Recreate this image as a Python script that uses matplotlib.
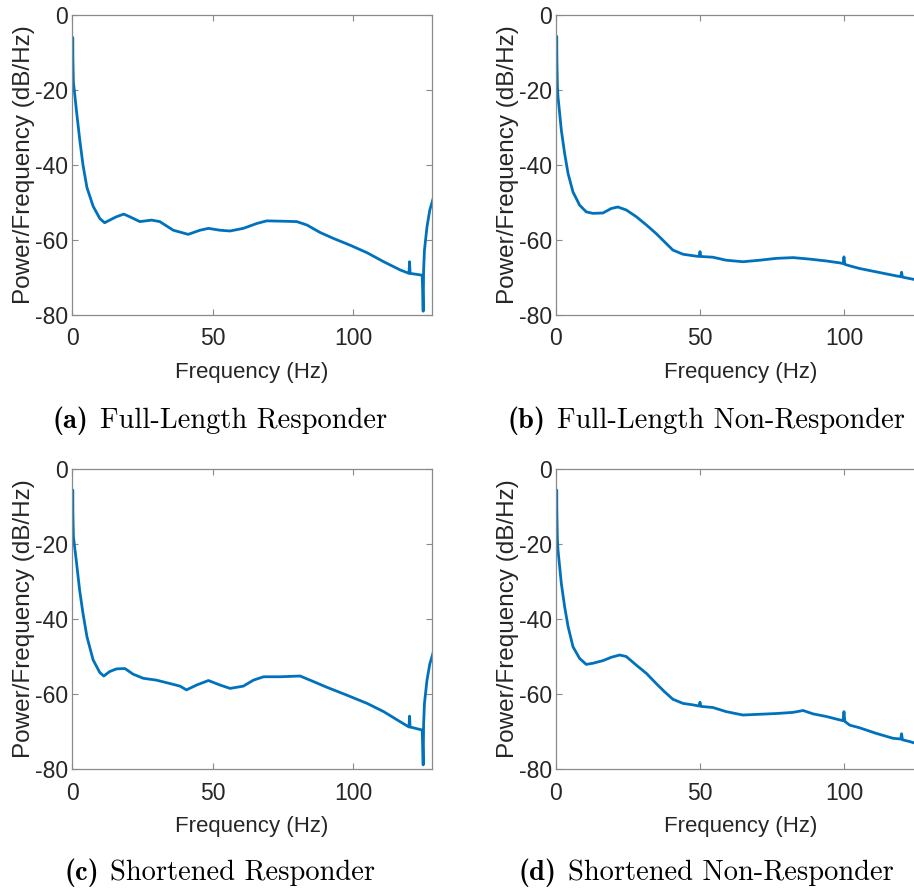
import matplotlib
matplotlib.use("Agg")
import matplotlib.pyplot as plt
from matplotlib.offsetbox import TextArea, HPacker, AnnotationBbox

plt.rcParams["font.family"] = ["Liberation Sans", "DejaVu Sans"]
plt.rcParams["axes.unicode_minus"] = False

# (a) Full-Length Responder
freq_a = [0.12, 0.25, 0.32, 0.5, 0.8, 1.5, 2.7, 3.9, 5.3, 7.5, 9.9, 11.6, 13.4, 15.8, 18.4,
          20.5, 24.1, 28.3, 31.2, 36.0, 41.3, 45.5, 48.5, 52.6, 56.2, 60.9, 65.7, 69.2,
          75.2, 79.9, 83.5, 88.2, 93.0, 98.9, 104.9, 110.8, 116.7, 119.8, 120.0, 120.2,
          124.5, 124.85, 125.0, 125.3, 126.2, 127.2, 128.3]
psd_a = [-19, -6, -12, -18, -20, -25, -33, -40, -46, -51, -54.3, -55.4, -54.7, -53.8, -53.1,
         -53.8, -55.1, -54.7, -55.1, -57.4, -58.5, -57.4, -56.9, -57.4, -57.6, -56.9, -55.6,
         -54.9, -55.0, -55.1, -56.0, -58.0, -59.6, -61.4, -63.4, -65.8, -68.0, -68.9, -65.8,
         -68.9, -69.4, -79.0, -68.0, -62.7, -56.5, -52.0, -49.2]

# (b) Full-Length Non-Responder
freq_b = [0.12, 0.25, 0.32, 0.5, 0.7, 1.85, 3.0, 4.2, 5.9, 8.2, 10.5, 12.8, 16.3, 19.2, 21.5,
          24.4, 27.9, 31.4, 34.8, 37.7, 40.6, 44.1, 47.6, 49.7, 50.0, 50.3, 54.5, 59.1,
          64.9, 70.7, 76.5, 82.3, 88.1, 93.9, 98.5, 99.7, 100.0, 100.3, 102.0, 105.4,
          111.2, 117.0, 119.7, 120.0, 120.3, 124.2, 128.3]
psd_b = [-18.7, -5.7, -12, -19, -21.8, -30.7, -36.9, -42.3, -47.2, -50.7, -52.5, -52.9, -52.8,
         -51.6, -51.2, -52.0, -53.8, -56.0, -58.3, -60.5, -62.7, -63.8, -64.2, -64.4, -63.1,
         -64.4, -64.6, -65.4, -65.8, -65.4, -64.9, -64.7, -65.1, -65.6, -66.1, -66.3, -64.5,
         -66.5, -66.9, -67.6, -68.5, -69.4, -69.8, -68.6, -69.9, -70.5, -71.2]

# (c) Shortened Responder
freq_c = [0.12, 0.25, 0.32, 0.5, 0.8, 1.5, 2.7, 3.9, 5.3, 7.5, 9.9, 11.3, 13.4, 15.8, 18.8,
          21.7, 25.3, 30.0, 34.8, 38.4, 40.7, 44.3, 48.5, 52.6, 56.2, 60.9, 64.5, 68.1,
          74.0, 81.1, 85.9, 90.6, 97.7, 104.9, 110.8, 116.7, 119.8, 120.0, 120.2,
          124.5, 124.85, 125.0, 125.3, 126.2, 127.2, 128.3]
psd_c = [-19, -5.6, -12, -18, -20, -24.3, -32.3, -38.5, -44.7, -50.9, -54.3, -55.2, -54.0,
         -53.3, -53.2, -54.7, -55.8, -56.3, -57.2, -57.9, -58.9, -57.6, -56.4, -57.6, -58.5,
         -57.9, -56.3, -55.4, -55.4, -55.2, -56.7, -58.2, -60.3, -62.5, -64.7, -67.4, -68.8,
         -65.9, -68.8, -69.6, -78.9, -68.0, -62.5, -56.3, -52.0, -49.2]

# (d) Shortened Non-Responder
freq_d = [0.12, 0.25, 0.32, 0.5, 0.7, 1.85, 3.0, 4.2, 5.9, 8.2, 10.5, 12.8, 16.3, 19.2, 22.1,
          24.4, 27.9, 31.4, 34.8, 37.7, 40.6, 44.1, 47.6, 49.7, 50.0, 50.3, 54.5, 59.1,
          64.9, 70.7, 76.5, 82.3, 85.8, 89.3, 93.9, 98.5, 99.7, 100.0, 100.3, 102.0, 105.4,
          111.2, 117.0, 119.7, 120.0, 120.3, 122.9, 124.2, 128.3]
psd_d = [-18.9, -5.6, -12, -19, -21.6, -30.5, -36.7, -42.0, -47.4, -50.5, -52.1, -51.8, -51.1,
         -50.2, -49.6, -50.0, -52.3, -54.5, -57.2, -59.4, -61.4, -62.5, -62.9, -63.2, -62.2,
         -63.3, -63.6, -64.7, -65.6, -65.4, -65.2, -64.9, -64.4, -65.3, -66.0, -66.9, -67.1,
         -64.7, -67.3, -68.3, -69.0, -70.5, -71.8, -72.0, -70.6, -72.2, -72.7, -73.0, -73.6]

cap_tags = ["(a)", "(b)", "(c)", "(d)"]
cap_names = ["Full-Length Responder", "Full-Length Non-Responder",
             "Shortened Responder", "Shortened Non-Responder"]

line_color = "#0072BD"
box_color = "#8a8a8a"
text_color = "#262626"

fig = plt.figure(figsize=(9.14, 8.88), dpi=100)

# axes positions in figure fraction: left, bottom, width, height
positions = [
    [0.0788, 0.6453, 0.3939, 0.3378],
    [0.6083, 0.6453, 0.4033, 0.3378],
    [0.0788, 0.1340, 0.3939, 0.3378],
    [0.6083, 0.1340, 0.4033, 0.3378],
]
caption_xy = [(0.2407, 0.5265), (0.7724, 0.5265), (0.2407, 0.0175), (0.7724, 0.0175)]

series = [(freq_a, psd_a), (freq_b, psd_b), (freq_c, psd_c), (freq_d, psd_d)]

for i, (pos, (f, p)) in enumerate(zip(positions, series)):
    ax = fig.add_axes(pos)
    ax.plot(f, p, color=line_color, linewidth=2.0)
    ax.set_xlim(0, 128)
    ax.set_ylim(-80, 0)
    ax.set_xticks([0, 50, 100])
    ax.set_yticks([-80, -60, -40, -20, 0])
    ax.tick_params(direction="in", top=True, right=True, length=4, color=box_color,
                   labelsize=16.5, labelcolor=text_color)
    ax.tick_params(axis="x", pad=9)
    ax.tick_params(axis="y", pad=3)
    for spine in ax.spines.values():
        spine.set_color(box_color)
        spine.set_linewidth(0.9)
    ax.set_xlabel("Frequency (Hz)", fontsize=16, color=text_color, labelpad=8)
    ax.set_ylabel("Power/Frequency (dB/Hz)", fontsize=17.5, color=text_color, labelpad=0)

    # caption: bold tag + roman text
    tag = TextArea(cap_tags[i], textprops=dict(family="cmb10", fontsize=20.5, color="black"))
    name = TextArea(cap_names[i], textprops=dict(family="cmr10", fontsize=20.5, color="black"))
    box = HPacker(children=[tag, name], align="baseline", pad=0, sep=8)
    ab = AnnotationBbox(box, caption_xy[i], xycoords="figure fraction", frameon=False,
                        box_alignment=(0.5, 0.5), pad=0)
    fig.add_artist(ab)

plt.savefig("out.png", dpi=100)
plt.close()
